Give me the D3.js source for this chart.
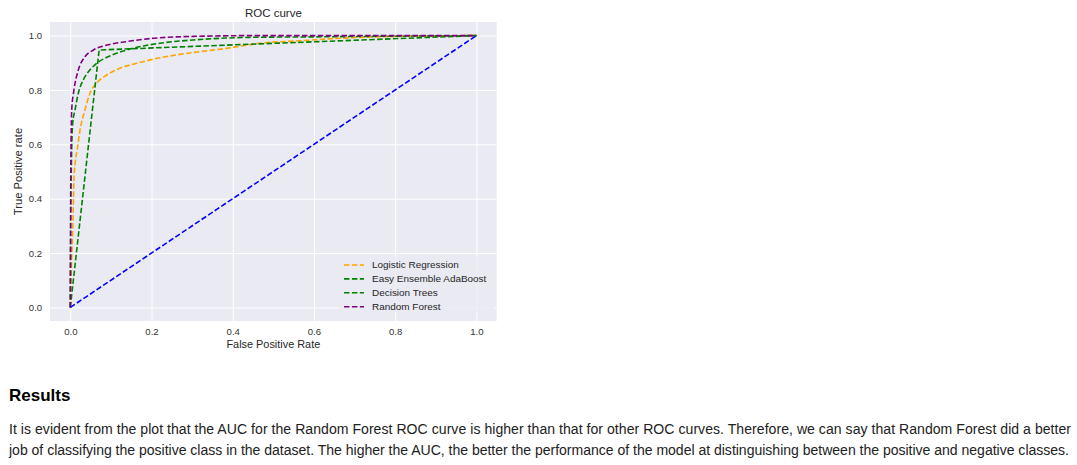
<!DOCTYPE html>
<html>
<head>
<meta charset="utf-8">
<script src="https://cdn.jsdelivr.net/npm/d3@7"></script>
<style>
  html, body { margin: 0; padding: 0; background: #fff; }
  svg { display: block; font-family: "Liberation Sans", Arial, sans-serif; }
</style>
</head>
<body>
<svg id="chart" width="1077" height="465"></svg>
<script>
// ---- data ----
const tickValues = [0, 0.2, 0.4, 0.6, 0.8, 1.0];
const seriesNames = ["Logistic Regression", "Easy Ensemble AdaBoost", "Decision Trees", "Random Forest"];
const seriesColors = ["orange", "green", "green", "purple"];

const lrFPR = [0, 0.003, 0.006, 0.009, 0.012, 0.017, 0.024, 0.036, 0.0485, 0.065, 0.09, 0.122, 0.164, 0.204, 0.262, 0.319, 0.385, 0.467, 0.566, 0.689, 0.81, 1];
const lrTPR = [0, 0.163, 0.285, 0.469, 0.531, 0.58, 0.653, 0.726, 0.788, 0.825, 0.855, 0.88, 0.898, 0.913, 0.929, 0.941, 0.953, 0.972, 0.981, 0.992, 0.997, 1];

const eeFPR = [0, 0.001, 0.003, 0.006, 0.0116, 0.0197, 0.032, 0.0485, 0.065, 0.09, 0.114, 0.139, 0.18, 0.221, 0.303, 0.385, 0.467, 0.566, 0.81, 1];
const eeTPR = [0, 0.3, 0.55, 0.68, 0.726, 0.788, 0.837, 0.874, 0.898, 0.92, 0.935, 0.947, 0.962, 0.972, 0.984, 0.991, 0.994, 0.995, 0.998, 1];

const dtFPR = [0, 0.071, 1];
const dtTPR = [0, 0.947, 1];

const rfFPR = [0, 0.0005, 0.001, 0.002, 0.0034, 0.009, 0.0197, 0.036, 0.057, 0.09, 0.139, 0.204, 0.303, 0.467, 1];
const rfTPR = [0, 0.2, 0.45, 0.62, 0.726, 0.8, 0.873, 0.922, 0.947, 0.965, 0.978, 0.99, 0.997, 1, 1];

const chanceFPR = [0, 1];
const chanceTPR = [0, 1];

const titleText = "ROC curve";
const xLabel = "False Positive Rate";
const yLabel = "True Positive rate";
const headingText = "Results";
const paragraphLines = [
  "It is evident from the plot that the AUC for the Random Forest ROC curve is higher than that for other ROC curves. Therefore, we can say that Random Forest did a better",
  "job of classifying the positive class in the dataset. The higher the AUC, the better the performance of the model at distinguishing between the positive and negative classes."
];

// ---- layout ----
const plot = { left: 50, right: 496.7, top: 22, bottom: 321 };
const paragraphWidths = [1062, 1060];
const svg = d3.select("#chart");

const x = d3.scaleLinear().domain([-0.05, 1.05]).range([plot.left, plot.right]);
const y = d3.scaleLinear().domain([-0.05, 1.05]).range([plot.bottom, plot.top]);

// background
svg.append("rect")
  .attr("x", plot.left).attr("y", plot.top)
  .attr("width", plot.right - plot.left).attr("height", plot.bottom - plot.top)
  .attr("fill", "#EAEAF2");

// grid via axes
const fmt = d3.format(".1f");
const xAxis = svg.append("g")
  .attr("transform", `translate(0,${plot.bottom})`)
  .call(d3.axisBottom(x).tickValues(tickValues).tickFormat(fmt).tickSize(-(plot.bottom - plot.top)).tickPadding(7));
const yAxis = svg.append("g")
  .attr("transform", `translate(${plot.left},0)`)
  .call(d3.axisLeft(y).tickValues(tickValues).tickFormat(fmt).tickSize(-(plot.right - plot.left)).tickPadding(8));

[xAxis, yAxis].forEach(g => {
  g.attr("font-size", null).attr("font-family", null);
  g.select(".domain").remove();
  g.selectAll(".tick line").attr("stroke", "#fff").attr("stroke-width", 1);
  g.selectAll(".tick text").attr("fill", "#333").attr("font-size", 9.6);
});
yAxis.selectAll(".tick text").attr("x", -7.8);

// lines
const series = [
  { fpr: lrFPR, tpr: lrTPR, curve: d3.curveMonotoneX },
  { fpr: eeFPR, tpr: eeTPR, curve: d3.curveMonotoneX },
  { fpr: dtFPR, tpr: dtTPR, curve: d3.curveLinear },
  { fpr: rfFPR, tpr: rfTPR, curve: d3.curveMonotoneX }
];

svg.append("clipPath").attr("id", "clip").append("rect")
  .attr("x", plot.left).attr("y", plot.top)
  .attr("width", plot.right - plot.left).attr("height", plot.bottom - plot.top);

const linesG = svg.append("g").attr("clip-path", "url(#clip)");
series.forEach((s, i) => {
  const pts = s.fpr.map((v, j) => [v, s.tpr[j]]);
  linesG.append("path")
    .attr("d", d3.line().x(d => x(d[0])).y(d => y(d[1])).curve(s.curve)(pts))
    .attr("fill", "none")
    .attr("stroke", seriesColors[i])
    .attr("stroke-width", 1.6)
    .attr("stroke-dasharray", "5.5,2.4");
});
linesG.append("path")
  .attr("d", d3.line().x(d => x(d[0])).y(d => y(d[1]))(chanceFPR.map((v, j) => [v, chanceTPR[j]])))
  .attr("fill", "none")
  .attr("stroke", "blue")
  .attr("stroke-width", 1.6)
  .attr("stroke-dasharray", "5.5,2.4");

// legend
const legend = svg.append("g");
legend.append("rect")
  .attr("x", 339).attr("y", 256.5).attr("width", 155).attr("height", 56)
  .attr("fill", "#EAEAF2").attr("opacity", 0.8);
seriesNames.forEach((name, i) => {
  const cy = 265 + i * 13.9;
  legend.append("line")
    .attr("x1", 344).attr("x2", 364).attr("y1", cy).attr("y2", cy)
    .attr("stroke", seriesColors[i]).attr("stroke-width", 1.6)
    .attr("stroke-dasharray", "5.5,2.4");
  legend.append("text")
    .attr("x", 372).attr("y", cy).attr("dy", "0.35em")
    .attr("font-size", 9.95).attr("fill", "#262626")
    .text(name);
});

// titles
svg.append("text")
  .attr("x", (plot.left + plot.right) / 2).attr("y", 16.5)
  .attr("text-anchor", "middle").attr("font-size", 11.5).attr("fill", "#262626")
  .text(titleText);
svg.append("text")
  .attr("x", (plot.left + plot.right) / 2).attr("y", 348)
  .attr("text-anchor", "middle").attr("font-size", 10.9).attr("fill", "#262626")
  .text(xLabel);
svg.append("text")
  .attr("transform", `translate(21.8,${(plot.top + plot.bottom) / 2}) rotate(-90)`)
  .attr("text-anchor", "middle").attr("font-size", 11.2).attr("fill", "#262626")
  .text(yLabel);

// results section
svg.append("text")
  .attr("x", 9).attr("y", 400.8)
  .attr("font-size", 17).attr("font-weight", "bold").attr("fill", "#000")
  .text(headingText);
paragraphLines.forEach((line, i) => {
  svg.append("text")
    .attr("x", 9).attr("y", 433.6 + i * 21)
    .attr("font-size", 14.05).attr("fill", "#222")
    .attr("textLength", paragraphWidths[i]).attr("lengthAdjust", "spacing")
    .text(line);
});
</script>
</body>
</html>
